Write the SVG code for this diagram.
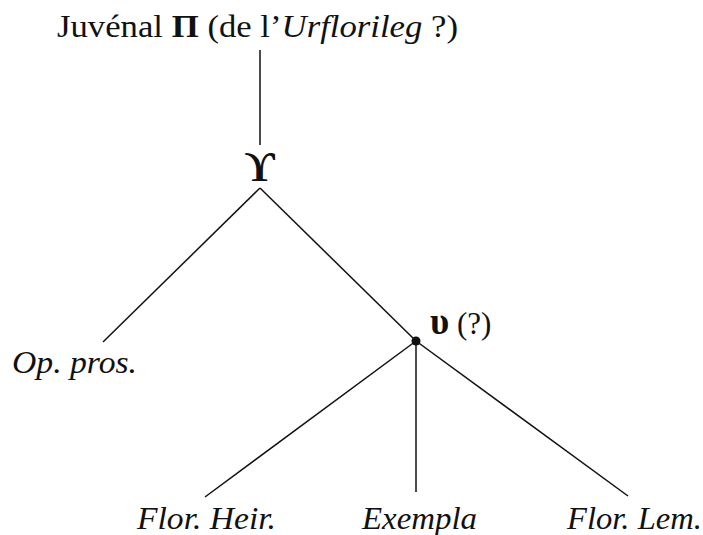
<svg xmlns="http://www.w3.org/2000/svg" width="703" height="535" viewBox="0 0 703 535">
<style>
text{font-family:"Liberation Serif","DejaVu Serif",serif;font-size:31px;fill:#111}
.i{font-style:italic}
.b{font-weight:bold}
.big{font-size:42px}
.mid{font-size:37px}
.e{stroke:#111;stroke-width:1.5;fill:none}
</style>
<rect width="703" height="535" fill="#fff"/>
<g id="connectors">
<line class="e" x1="260" y1="50" x2="260" y2="145"/>
<line class="e" x1="260" y1="188" x2="103" y2="342"/>
<line class="e" x1="260" y1="188" x2="416" y2="341"/>
<line class="e" x1="416" y1="341" x2="205" y2="497"/>
<line class="e" x1="416" y1="341" x2="416" y2="492"/>
<line class="e" x1="416" y1="341" x2="628" y2="496"/>
</g>
<g id="pi"><text x="57" y="37" textLength="401" lengthAdjust="spacingAndGlyphs">Juvénal <tspan class="b">Π</tspan> (de l’<tspan class="i">Urflorileg</tspan> ?)</text></g>
<g id="Upsilon"><text class="b big" x="260" y="181" text-anchor="middle">ϒ</text></g>
<g id="upsilon">
<circle cx="416" cy="341" r="4.5" fill="#111"/>
<text x="430" y="334"><tspan class="b mid">υ</tspan> (?)</text>
</g>
<g id="oppros"><text class="i" x="12" y="373" textLength="125" lengthAdjust="spacingAndGlyphs">Op. pros.</text></g>
<g id="florheir"><text class="i" x="137" y="529" textLength="139" lengthAdjust="spacingAndGlyphs">Flor. Heir.</text></g>
<g id="exempla"><text class="i" x="362" y="529" textLength="115" lengthAdjust="spacingAndGlyphs">Exempla</text></g>
<g id="florlem"><text class="i" x="567" y="529" textLength="135" lengthAdjust="spacingAndGlyphs">Flor. Lem.</text></g>
</svg>
